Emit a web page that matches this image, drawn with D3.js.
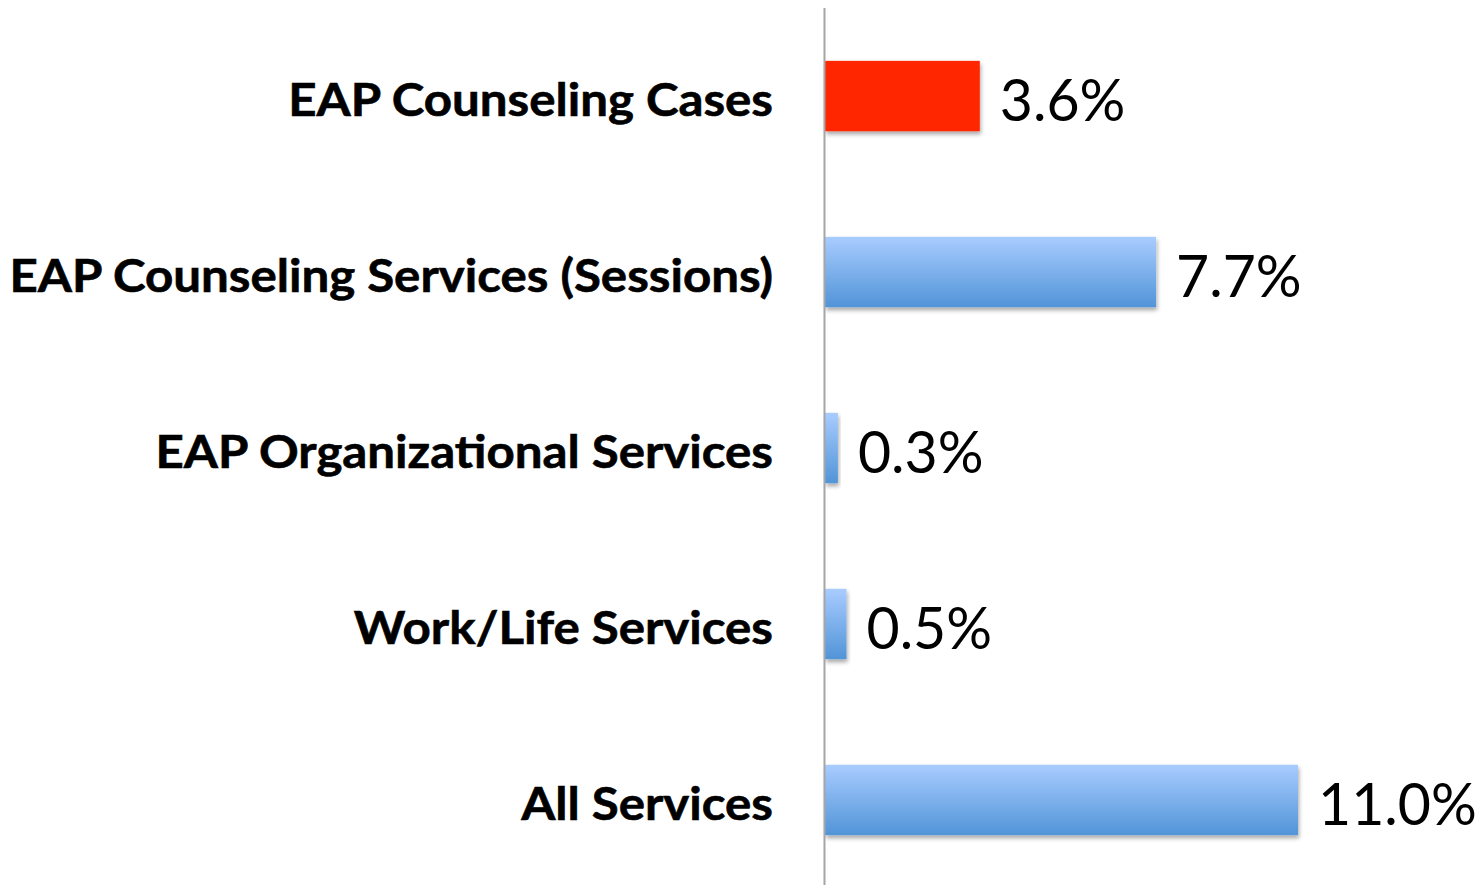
<!DOCTYPE html>
<html>
<head>
<meta charset="utf-8">
<script src="https://cdn.jsdelivr.net/npm/d3@7"></script>
<style>
  html, body { margin: 0; padding: 0; background: #fff; }
  svg { display: block; }
</style>
</head>
<body>
<div id="chart"></div>
<script>
// chart data
var categories = [
  "EAP Counseling Cases",
  "EAP Counseling Services (Sessions)",
  "EAP Organizational Services",
  "Work/Life Services",
  "All Services"
];
var values = [3.6, 7.7, 0.3, 0.5, 11.0];
var valueLabels = ["3.6%", "7.7%", "0.3%", "0.5%", "11.0%"];
var highlighted = ["EAP Counseling Cases"];

var w = 1479,
    h = 885;

var svg = d3.select("#chart").append("svg").attr("width", w).attr("height", h);

var defs = svg.append("defs");

// blue bar gradient, light at top
var grad = defs.append("linearGradient")
  .attr("id", "blueGrad")
  .attr("x1", 0).attr("y1", 0).attr("x2", 0).attr("y2", 1);
grad.append("stop").attr("offset", "0%").attr("stop-color", "#a9ccff");
grad.append("stop").attr("offset", "100%").attr("stop-color", "#5194d8");

// soft drop shadow under bars
var shadow = defs.append("filter")
  .attr("id", "shadow")
  .attr("x", "-10%").attr("y", "-10%")
  .attr("width", "130%").attr("height", "140%");
shadow.append("feDropShadow")
  .attr("dx", 1).attr("dy", 3)
  .attr("stdDeviation", 2.2)
  .attr("flood-color", "#000")
  .attr("flood-opacity", 0.35);

var x = d3.scaleLinear().domain([0, 11]).range([825, 1298]);

var y = d3.scaleBand()
  .domain(categories)
  .range([10, 886])
  .paddingInner(0.6)
  .paddingOuter(0.289);

// bars
svg.selectAll("rect.bar")
  .data(categories)
  .enter()
  .append("rect")
    .attr("class", "bar")
    .attr("x", x(0))
    .attr("y", function(d) { return y(d); })
    .attr("width", function(d, i) { return x(values[i]) - x(0); })
    .attr("height", y.bandwidth())
    .attr("fill", function(d) {
      return highlighted.indexOf(d) >= 0 ? "#ff2600" : "url(#blueGrad)";
    })
    .attr("filter", "url(#shadow)");

// vertical axis line
var axis = svg.append("g")
  .attr("transform", "translate(" + x(0) + ",0)")
  .call(d3.axisLeft(y).tickSize(0).tickFormat(""));
axis.select(".domain").remove();
axis.append("line")
  .attr("x1", -0.5).attr("x2", -0.5)
  .attr("y1", 8).attr("y2", h)
  .attr("stroke", "#a6a6a6")
  .attr("stroke-width", 2);

// category labels
svg.selectAll("text.cat")
  .data(categories)
  .enter()
  .append("text")
    .attr("class", "cat")
    .attr("x", 773)
    .attr("y", function(d) { return y(d) + y.bandwidth() / 2 + 20; })
    .attr("text-anchor", "end")
    .style("font-family", "Lato, 'Open Sans', sans-serif")
    .style("font-weight", "bold")
    .style("font-size", "46px")
    .attr("fill", "#000")
    .attr("stroke", "#000")
    .attr("stroke-width", 0.6)
    .text(function(d) { return d; });

// value labels
svg.selectAll("text.val")
  .data(categories)
  .enter()
  .append("text")
    .attr("class", "val")
    .attr("x", function(d, i) { return x(values[i]) + 20; })
    .attr("y", function(d) { return y(d) + y.bandwidth() / 2 + 25; })
    .style("font-family", "Lato, 'Open Sans', sans-serif")
    .style("font-size", "58px")
    .attr("fill", "#000")
    .text(function(d, i) { return valueLabels[i]; });

// widen the text a little to match the original face
var catScale = 1.07, valScale = 0.985;
svg.selectAll("text.cat").each(function() {
  var len = this.getComputedTextLength();
  d3.select(this).attr("textLength", len * catScale).attr("lengthAdjust", "spacingAndGlyphs");
});
svg.selectAll("text.val").each(function() {
  var len = this.getComputedTextLength();
  d3.select(this).attr("textLength", len * valScale).attr("lengthAdjust", "spacingAndGlyphs");
});
</script>
</body>
</html>
